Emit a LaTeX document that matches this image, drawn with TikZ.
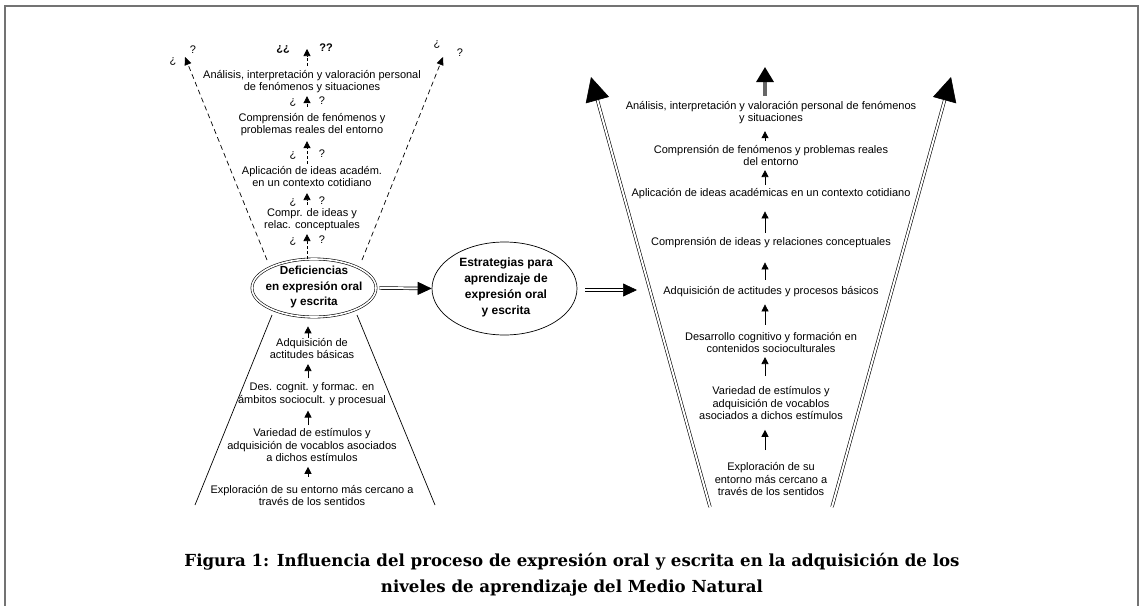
\documentclass[tikz,border=0pt]{standalone}
\usepackage{fontspec}
\setmainfont{Liberation Sans}
\newfontfamily\capfont{DejaVu Serif}
\usetikzlibrary{arrows.meta,shapes.geometric}
\begin{document}
\begin{tikzpicture}[x=1pt,y=-1pt,
  txt/.style={font=\fontsize{11}{12.5}\selectfont, align=center, inner sep=0pt},
  bt/.style={font=\fontsize{11.7}{15.5}\selectfont\bfseries, align=center, inner sep=0pt},
  qm/.style={font=\fontsize{11}{12}\selectfont, inner sep=0pt, anchor=base},
  sarr/.style={-{Triangle[length=7pt,width=7pt]}, line width=0.7pt},
  darr/.style={-{Triangle[length=7pt,width=7pt]}, line width=0.7pt, dash pattern=on 3pt off 2pt},
  dline/.style={line width=0.7pt, dash pattern=on 5pt off 3.5pt},
  dbl/.style={double, double distance=2pt, line width=0.7pt},
  frm/.style={draw=black!55, line width=1.8pt}
]
\useasboundingbox (0,0) rectangle (1142,605);
\draw[frm] (5,615) -- (5,6) -- (1138,6) -- (1138,615);

% ---------------- left diagram ----------------
\node[ellipse, draw, double, double distance=1.6pt, line width=0.6pt,
      minimum width=124pt, minimum height=58pt] (D) at (314,288) {};
\node[bt] (Dt) at (314,287) {Deficiencias\\en expresión oral\\y escrita};

% upper (dashed) funnel
\node[txt] (t1) at (312,219.5) {Compr. de ideas y\\relac. conceptuales};
\node[txt] (t2) at (312,176.5) {Aplicación de ideas académ.\\en un contexto cotidiano};
\node[txt] (t3) at (312,124.5) {Comprensión de fenómenos y\\problemas reales del entorno};
\node[txt] (t4) at (312,81.5) {Análisis, interpretación y valoración personal\\de fenómenos y situaciones};
\coordinate (ta) at (307,0);
\coordinate (ttop) at (307,49);

\draw[darr, shorten >=3pt] (D.north -| ta) -- (t1.south -| ta);
\draw[darr, shorten <=3pt, shorten >=6pt] (t1.north -| ta) -- (t2.south -| ta);
\draw[darr, shorten <=2pt, shorten >=5pt] (t2.north -| ta) -- (t3.south -| ta);
\draw[darr, shorten <=6pt, shorten >=3pt] (t3.north -| ta) -- (t4.south -| ta);
\draw[darr, shorten <=4pt] (t4.north -| ta) -- (ttop);

\node[qm] (q1a) at (293,243) {¿};  \node[qm] (q1b) at (322,243) {?};
\node[qm] (q2a) at (293,204) {¿};  \node[qm] (q2b) at (322,204) {?};
\node[qm] (q3a) at (293,157) {¿};  \node[qm] (q3b) at (322,157) {?};
\node[qm] (q4a) at (293,104) {¿};  \node[qm] (q4b) at (322,104) {?};
\node[qm, font=\fontsize{11}{12}\selectfont\bfseries] (q5a) at (283,51) {¿¿};
\node[qm, font=\fontsize{11}{12}\selectfont\bfseries] (q5b) at (326,51) {??};

\coordinate (dl0) at (267,260);
\coordinate (dl1) at (185,57);
\coordinate (dr0) at (362,260);
\coordinate (dr1) at (443,57);
\draw[dline, -{Triangle[length=8pt,width=7pt]}] (dl0) -- (dl1);
\draw[dline, -{Triangle[length=8pt,width=7pt]}] (dr0) -- (dr1);
\node[txt] (ql1) at (173,62) {¿};
\node[txt] (ql2) at (193,50) {?};
\node[txt] (qr1) at (437,45) {¿};
\node[txt] (qr2) at (460,53) {?};

% lower (solid) funnel
\node[txt] (l4) at (312,348.5) {Adquisición de\\actitudes básicas};
\node[txt] (l3) at (312,394) {Des. cognit. y formac. en\\ámbitos sociocult. y procesual};
\node[txt] (l2) at (312,445) {Variedad de estímulos y\\adquisición de vocablos asociados\\a dichos estímulos};
\node[txt] (l1) at (312,495.5) {Exploración de su entorno más cercano a\\través de los sentidos};
\coordinate (la) at (308,0);
\draw[sarr, shorten <=8pt, shorten >=5pt] (l1.north -| la) -- (l2.south -| la);
\draw[sarr, shorten <=3pt, shorten >=5pt] (l2.north -| la) -- (l3.south -| la);
\draw[sarr, shorten <=4pt, shorten >=5pt] (l3.north -| la) -- (l4.south -| la);
\draw[sarr, shorten >=9pt] (l4.north -| la) -- (D.south -| la);

\coordinate (sl0) at (272,315);
\coordinate (sl1) at (195,505);
\coordinate (sr0) at (357,315);
\coordinate (sr1) at (435,505);
\draw[line width=0.7pt] (sl0) -- (sl1);
\draw[line width=0.7pt] (sr0) -- (sr1);

% ---------------- middle ----------------
\node[ellipse, draw, line width=0.7pt, minimum width=145pt, minimum height=93pt] (R) at (504.5,288.5) {};
\node[bt, font=\fontsize{12}{16}\selectfont\bfseries] (Rt) at (506,287.5) {Estrategias para\\aprendizaje de\\expresión oral\\y escrita};
\draw[dbl, -{Triangle[length=14pt,width=13pt]}, shorten <=3pt] (D.east) -- (R.west);
\coordinate (m1) at (637,290);
\draw[dbl, -{Triangle[length=14pt,width=13pt]}, shorten <=8pt] (R.east |- m1) -- (m1);

% ---------------- right diagram ----------------
\node[txt] (r1) at (771,479) {Exploración de su\\entorno más cercano a\\través de los sentidos};
\node[txt] (r2) at (771,403) {Variedad de estímulos y\\adquisición de vocablos\\asociados a dichos estímulos};
\node[txt] (r3) at (771,342.5) {Desarrollo cognitivo y formación en\\contenidos socioculturales};
\node[txt] (r4) at (771,292) {Adquisición de actitudes y procesos básicos};
\node[txt] (r5) at (771,243) {Comprensión de ideas y relaciones conceptuales};
\node[txt] (r6) at (771,194) {Aplicación de ideas académicas en un contexto cotidiano};
\node[txt] (r7) at (771,155.5) {Comprensión de fenómenos y problemas reales\\del entorno};
\node[txt] (r8) at (771,112.5) {Análisis, interpretación y valoración personal de fenómenos\\y situaciones};
\coordinate (ra) at (765,0);
\coordinate (rtop) at (765,67);
\draw[sarr, shorten <=12pt, shorten >=10pt] (r1.north -| ra) -- (r2.south -| ra);
\draw[sarr, shorten <=10pt, shorten >=4pt] (r2.north -| ra) -- (r3.south -| ra);
\draw[sarr, shorten <=7pt, shorten >=7pt] (r3.north -| ra) -- (r4.south -| ra);
\draw[sarr, shorten <=7pt, shorten >=14pt] (r4.north -| ra) -- (r5.south -| ra);
\draw[sarr, shorten <=5pt, shorten >=12pt] (r5.north -| ra) -- (r6.south -| ra);
\draw[sarr, shorten <=4pt, shorten >=4pt] (r6.north -| ra) -- (r7.south -| ra);
\draw[sarr, shorten <=4pt, shorten >=7pt] (r7.north -| ra) -- (r8.south -| ra);
\draw[draw=black!60, line width=3.2pt, -{Triangle[length=15pt,width=17pt,color=black]}, shorten <=5pt] (r8.north -| ra) -- (rtop);

\coordinate (vl0) at (710,507);
\coordinate (vl1) at (591,77);
\coordinate (vr0) at (832,507);
\coordinate (vr1) at (951,77);
\draw[dbl, line width=0.6pt, -{Triangle[length=24pt,width=24pt]}] (vl0) -- (vl1);
\draw[dbl, line width=0.6pt, -{Triangle[length=24pt,width=24pt]}] (vr0) -- (vr1);

% ---------------- caption ----------------
\node[font=\capfont\bfseries\fontsize{16.6}{26}\selectfont, align=center, inner sep=0pt] (cap) at (572,575)
  {Figura 1: Influencia del proceso de expresión oral y escrita en la adquisición de los\\niveles de aprendizaje del Medio Natural};
\end{tikzpicture}
\end{document}
